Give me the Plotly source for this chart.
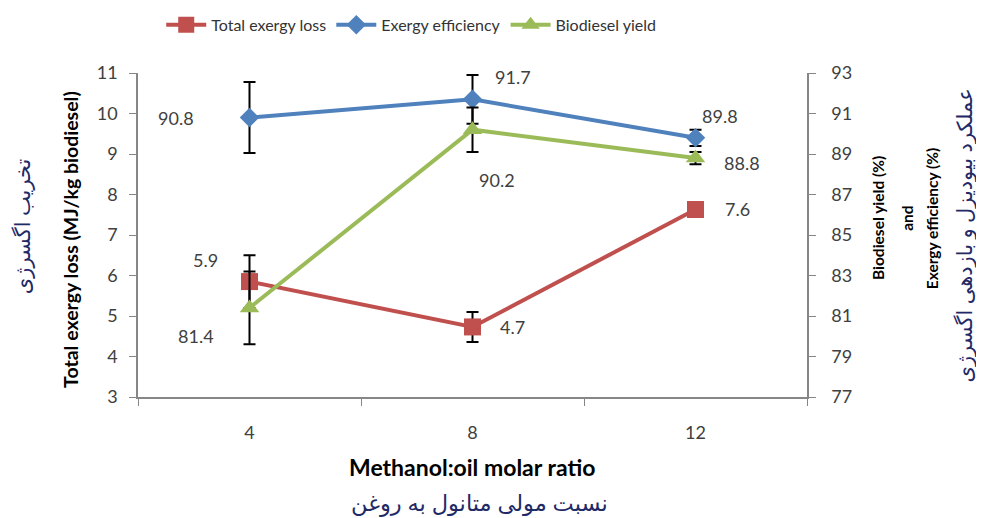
import plotly.graph_objects as go

categories = ["4", "8", "12"]
exergy_loss = [5.85, 4.73, 7.63]
exergy_loss_err = [0.65, 0.37, 0.0]
exergy_eff = [90.8, 91.7, 89.8]
exergy_eff_err = [1.75, 1.2, 0.4]
biodiesel_yield = [81.4, 90.2, 88.8]
biodiesel_yield_err = [1.8, 1.1, 0.3]

loss_labels = ["5.9", "4.7", "7.6"]
eff_labels = ["90.8", "91.7", "89.8"]
yield_labels = ["81.4", "90.2", "88.8"]

RED = "#C0504D"
BLUE = "#4F81BD"
GREEN = "#9BBB59"
FONT = "Lato, 'Open Sans', sans-serif"
FA = "'Noto Sans', 'DejaVu Sans', sans-serif"
NAVY = "#1F2A66"

fig = go.Figure()

err_style = dict(type="data", visible=True, color="black", thickness=2, width=6)

fig.add_trace(go.Scatter(
    x=categories, y=exergy_loss, name="Total exergy loss", mode="lines+markers",
    line=dict(color=RED, width=4), marker=dict(symbol="square", size=17, color=RED),
    error_y=dict(array=exergy_loss_err, **err_style), yaxis="y", cliponaxis=False))
fig.add_trace(go.Scatter(
    x=categories, y=exergy_eff, name="Exergy efficiency", mode="lines+markers",
    line=dict(color=BLUE, width=4), marker=dict(symbol="diamond", size=15, color=BLUE),
    error_y=dict(array=exergy_eff_err, **err_style), yaxis="y2", cliponaxis=False))
fig.add_trace(go.Scatter(
    x=categories, y=biodiesel_yield, name="Biodiesel yield", mode="lines+markers",
    line=dict(color=GREEN, width=4), marker=dict(symbol="triangle-up", size=17, color=GREEN),
    error_y=dict(array=biodiesel_yield_err, **err_style), yaxis="y2", cliponaxis=False))

ann = []
lab_font = dict(family=FONT, size=18, color="#404040")
loss_off = [(-44, 22), (40, 0), (42, 0)]
eff_off = [(-74, 0), (40, 22), (24, 22)]
yield_off = [(-54, -28), (24, -50), (46, -5)]
for i, c in enumerate(categories):
    dx, dy = loss_off[i]
    ann.append(dict(x=i, y=exergy_loss[i], xref="x", yref="y", text=loss_labels[i],
                    showarrow=False, xshift=dx, yshift=dy, font=lab_font))
    dx, dy = eff_off[i]
    ann.append(dict(x=i, y=exergy_eff[i], xref="x", yref="y2", text=eff_labels[i],
                    showarrow=False, xshift=dx, yshift=dy, font=lab_font))
    dx, dy = yield_off[i]
    ann.append(dict(x=i, y=biodiesel_yield[i], xref="x", yref="y2", text=yield_labels[i],
                    showarrow=False, xshift=dx, yshift=dy, font=lab_font))

C = dict(xref="paper", yref="paper", showarrow=False, xanchor="center", yanchor="middle")
ann += [
    dict(text="<b>Total exergy loss (MJ/kg biodiesel)</b>", x=-0.100, y=0.485, textangle=-90,
         font=dict(family=FONT, size=19.5, color="black"), **C),
    dict(text="تخریب اگسرژی", x=-0.173, y=0.528, textangle=-90,
         font=dict(family=FA, size=21, color=NAVY), **C),
    dict(text="<b>Biodiesel yield (%)</b>", x=1.106, y=0.552, textangle=-90,
         font=dict(family=FONT, size=15.5, color="black"), **C),
    dict(text="<b>and</b>", x=1.149, y=0.552, textangle=-90,
         font=dict(family=FONT, size=15.5, color="black"), **C),
    dict(text="<b>Exergy efficiency (%)</b>", x=1.187, y=0.552, textangle=-90,
         font=dict(family=FONT, size=15.5, color="black"), **C),
    dict(text="عملکرد بیودیزل و بازدهی اگسرژی", x=1.234, y=0.497, textangle=-90,
         font=dict(family=FA, size=21, color=NAVY), **C),
    dict(text="<b>Methanol:oil molar ratio</b>", x=0.499, y=-0.216,
         font=dict(family=FONT, size=23, color="black"), **C),
    dict(text="نسبت مولی متانول به روغن", x=0.511, y=-0.326,
         font=dict(family=FA, size=22.5, color=NAVY), **C),
]

axis_line = dict(showline=True, linecolor="#868686", linewidth=1.5, ticks="outside",
                 tickcolor="#868686", ticklen=7, showgrid=False, zeroline=False,
                 automargin=False)

fig.update_layout(
    width=976, height=510,
    margin=dict(l=130, r=177, t=65, b=121),
    plot_bgcolor="white", paper_bgcolor="white",
    font=dict(family=FONT, size=17, color="#404040"),
    showlegend=True,
    legend=dict(orientation="h", xref="container", yref="container",
                x=0.157, y=0.967, xanchor="left", yanchor="middle",
                font=dict(family=FONT, size=16, color="#333333"), itemwidth=40,
                traceorder="normal"),
    xaxis=dict(type="category", tickson="boundaries", range=[-0.5, 2.5],
               tickfont=dict(size=18), ticklabelstandoff=19, **axis_line),
    yaxis=dict(range=[3, 11], dtick=1, tickfont=dict(size=18), ticklabelstandoff=8,
               **axis_line),
    yaxis2=dict(range=[77, 93], tick0=77, dtick=2, overlaying="y", side="right",
                tickfont=dict(size=18), ticklabelstandoff=12, **axis_line),
    annotations=ann,
)

fig.write_html("out.html")
